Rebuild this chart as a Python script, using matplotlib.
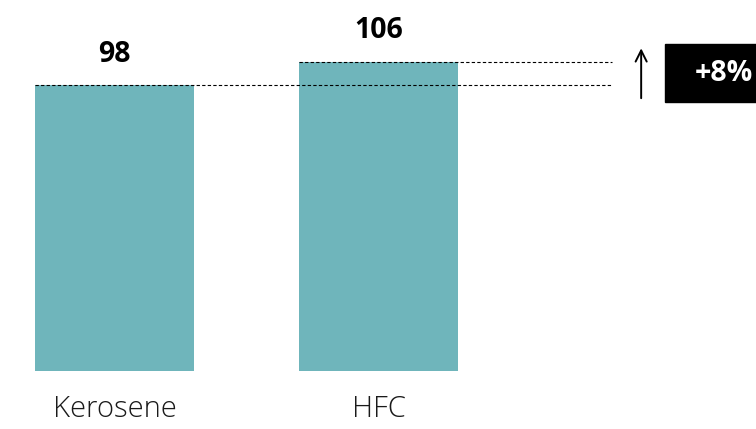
import matplotlib.pyplot as plt
from matplotlib.patches import Rectangle

categories = ["Kerosene", "HFC"]
values = [98, 106]
change_label = "+8%"

bar_color = "#6fb5bb"

plt.rcParams['font.family'] = ['Open Sans', 'DejaVu Sans']

fig = plt.figure(figsize=(7.56, 4.29), dpi=100)
ax = fig.add_axes([0, 0, 1, 1])

x = list(range(len(categories)))
ax.bar(x, values, width=0.602, color=bar_color)

# limits chosen so bars land where they sit in the reference
ax.set_xlim(-0.4337, 2.43)
ax.set_ylim(-19.9, 127.1)
ax.axis('off')

for xi, v in zip(x, values):
    ax.text(xi, v + 10.5, str(v), ha='center', va='center',
            fontsize=20.5, fontweight='bold', color='black')

for xi, c in zip(x, categories):
    ax.text(xi, -13.0, c, ha='center', va='center',
            fontsize=21, fontweight='light', color='#1a1a1a')

# dashed reference lines from each bar top to the arrow
x_end = 1.885
for xi, v in zip(x, values):
    ax.plot([xi - 0.301, x_end], [v, v], linestyle=(0, (3, 2)),
            color='black', linewidth=0.8)

ax.annotate("", xy=(1.995, 111.5), xytext=(1.995, 92.5),
            arrowprops=dict(arrowstyle="->", color='black', lw=1.4,
                            mutation_scale=20))

ax.add_patch(Rectangle((2.085, 92.0), 0.5, 19.9, color='black',
                       clip_on=False))
ax.text(2.31, 102.0, change_label, ha='center', va='center',
        fontsize=20.5, fontweight='bold', color='white')

fig.savefig("out.png", dpi=100)
